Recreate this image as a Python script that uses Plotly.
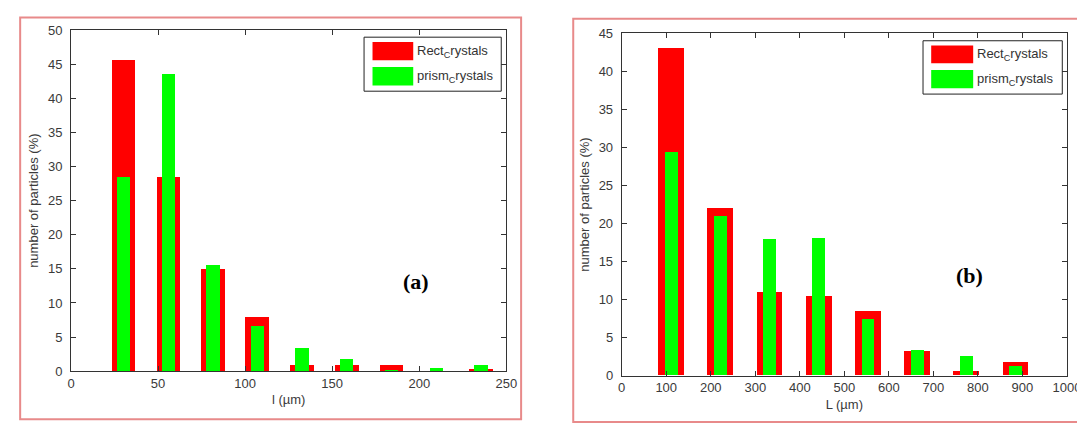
import plotly.graph_objects as go

# ---------------- data ----------------
# panel (a): width l (um)
a_x = [30.2, 55.9, 81.5, 107.0, 132.7, 158.4, 184.0, 209.7, 235.5]
a_rect = [45.6, 28.4, 14.9, 7.9, 0.85, 0.85, 0.85, 0.0, 0.35]
a_prism = [28.4, 43.6, 15.5, 6.6, 3.4, 1.75, 0.1, 0.4, 0.85]

# panel (b): length L (um)
b_x = [110.5, 221.0, 331.5, 442.0, 552.5, 663.0, 773.5, 884.0]
b_rect = [43.0, 22.0, 11.0, 10.5, 8.45, 3.2, 0.6, 1.8]
b_prism = [29.3, 20.9, 17.95, 18.0, 7.35, 3.3, 2.5, 1.27]

series_names = ["Rect<sub>C</sub>rystals", "prism<sub>C</sub>rystals"]
a_xticks = [0, 50, 100, 150, 200, 250]
a_yticks = list(range(0, 51, 5))
b_xticks = [0, 100, 200, 300, 400, 500, 600, 700, 800, 900, 1000]
b_yticks = list(range(0, 46, 5))

RED = "#ff0000"
GREEN = "#00ff00"
W, H = 1085, 423


def px(x):
    return x / W


def py(y):
    return 1 - y / H


fig = go.Figure()
fig.add_bar(x=a_x, y=a_rect, width=13.6, marker=dict(color=RED, line_width=0),
            name=series_names[0], xaxis="x", yaxis="y", showlegend=False)
fig.add_bar(x=a_x, y=a_prism, width=7.6, marker=dict(color=GREEN, line_width=0),
            name=series_names[1], xaxis="x", yaxis="y", showlegend=False)
fig.add_bar(x=b_x, y=b_rect, width=58, marker=dict(color=RED, line_width=0),
            name=series_names[0], xaxis="x2", yaxis="y2", showlegend=False)
fig.add_bar(x=b_x, y=b_prism, width=29, marker=dict(color=GREEN, line_width=0),
            name=series_names[1], xaxis="x2", yaxis="y2", showlegend=False)

axis_common = dict(
    showgrid=False, zeroline=False, showline=True, linecolor="#333333", linewidth=1,
    mirror="ticks", ticks="inside", ticklen=5, tickcolor="#333333",
    tickfont=dict(family="Liberation Sans, Arial", size=13, color="#3a3a3a"),
    title_font=dict(family="Liberation Sans, Arial", size=13, color="#3a3a3a"),
)

fig.update_layout(
    width=W, height=H,
    margin=dict(l=0, r=0, t=0, b=0),
    paper_bgcolor="white", plot_bgcolor="white",
    barmode="overlay", bargap=0,
    xaxis=dict(domain=[px(60), px(502.7)], range=[0, 250], tickvals=a_xticks,
               anchor="y", title=dict(text="l (µm)", standoff=5), **axis_common),
    yaxis=dict(domain=[py(369.3), py(15.7)], range=[0, 50], tickvals=a_yticks,
               anchor="x", ticklabelstandoff=5,
               title=dict(text="number of particles (%)", standoff=6), **axis_common),
    xaxis2=dict(domain=[px(620), px(1072.7)], range=[0, 1000], tickvals=b_xticks,
                anchor="y2", title=dict(text="L (µm)", standoff=5), **axis_common),
    yaxis2=dict(domain=[py(374), py(19)], range=[0, 45], tickvals=b_yticks,
                anchor="x2", ticklabelstandoff=5,
                title=dict(text="number of particles (%)", standoff=6), **axis_common),
)

shapes = []
annotations = []

# pink panel frames
shapes.append(dict(type="rect", xref="paper", yref="paper",
                   x0=px(8.3), x1=px(517.7), y0=py(419), y1=py(2.7),
                   line=dict(color="#e88a8a", width=2), layer="below"))
shapes.append(dict(type="rect", xref="paper", yref="paper",
                   x0=px(570.7), x1=px(1095), y0=py(422), y1=py(4),
                   line=dict(color="#e88a8a", width=2), layer="below"))


def add_legend(box, patch_x, red_y, green_y, text_x):
    shapes.append(dict(type="rect", xref="paper", yref="paper",
                       x0=px(box[0]), x1=px(box[1]), y0=py(box[3]), y1=py(box[2]),
                       line=dict(color="#222222", width=1), fillcolor="white"))
    for (y0, y1), col, name in [(red_y, RED, series_names[0]), (green_y, GREEN, series_names[1])]:
        shapes.append(dict(type="rect", xref="paper", yref="paper",
                           x0=px(patch_x[0]), x1=px(patch_x[1]), y0=py(y1), y1=py(y0),
                           line=dict(width=0), fillcolor=col))
        annotations.append(dict(xref="paper", yref="paper", x=px(text_x), y=py((y0 + y1) / 2),
                                text=name, showarrow=False, xanchor="left", yanchor="middle",
                                font=dict(family="Liberation Sans, Arial", size=13, color="#333333")))


add_legend((358, 497.5, 23, 79), (366.6, 408), (28, 47), (54, 73), 410)
add_legend((926.4, 1068, 26.7, 82), (934.7, 977.4), (31.7, 50), (57, 76), 979.5)

annotations.append(dict(xref="paper", yref="paper", x=px(410.7), y=py(291), text="<b>(a)</b>",
                        showarrow=False, font=dict(family="Liberation Serif, Times New Roman", size=22, color="black")))
annotations.append(dict(xref="paper", yref="paper", x=px(989), y=py(285), text="<b>(b)</b>",
                        showarrow=False, font=dict(family="Liberation Serif, Times New Roman", size=22, color="black")))

fig.update_layout(shapes=shapes, annotations=annotations)
fig.write_html("out.html")
